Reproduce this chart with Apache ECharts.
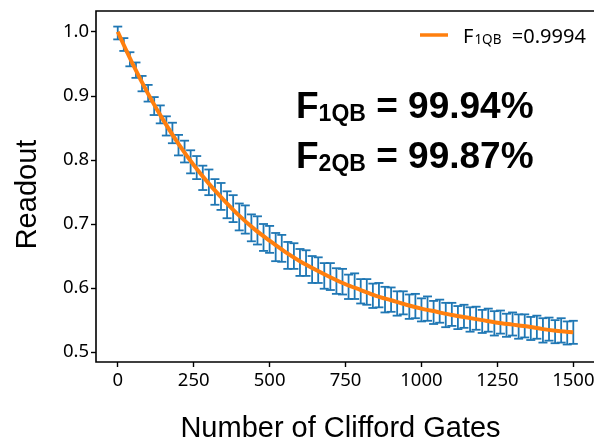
<!DOCTYPE html>
<html>
<head>
<meta charset="utf-8">
<script src="https://cdn.jsdelivr.net/npm/echarts@6/dist/echarts.min.js"></script>
<style>
  html, body { margin: 0; padding: 0; background: #ffffff; }
  #chart { width: 594px; height: 437px; }
</style>
</head>
<body>
<div id="chart"></div>
<script>
// Randomized benchmarking: readout vs. number of Clifford gates
const gates = [0, 20, 40, 60, 80, 100, 120, 140, 160, 180, 200, 220, 240, 260, 280, 300, 320, 340, 360, 380,
  400, 420, 440, 460, 480, 500, 520, 540, 560, 580, 600, 620, 640, 660, 680, 700, 720, 740, 760, 780,
  800, 820, 840, 860, 880, 900, 920, 940, 960, 980, 1000, 1020, 1040, 1060, 1080, 1100, 1120, 1140, 1160, 1180,
  1200, 1220, 1240, 1260, 1280, 1300, 1320, 1340, 1360, 1380, 1400, 1420, 1440, 1460, 1480, 1500];
const readout = [0.998, 0.980, 0.957, 0.940, 0.919, 0.904, 0.884, 0.871, 0.853, 0.842,
  0.823, 0.813, 0.797, 0.788, 0.772, 0.765, 0.750, 0.743, 0.730, 0.724,
  0.711, 0.707, 0.694, 0.690, 0.679, 0.676, 0.664, 0.662, 0.651, 0.650,
  0.640, 0.639, 0.629, 0.628, 0.619, 0.618, 0.611, 0.610, 0.602, 0.603,
  0.595, 0.594, 0.588, 0.589, 0.582, 0.582, 0.576, 0.577, 0.571, 0.572,
  0.566, 0.568, 0.562, 0.564, 0.558, 0.559, 0.554, 0.556, 0.551, 0.553,
  0.548, 0.550, 0.545, 0.547, 0.542, 0.544, 0.540, 0.541, 0.537, 0.539,
  0.534, 0.536, 0.532, 0.534, 0.530, 0.531];
const readoutErr = [0.010, 0.010, 0.011, 0.012, 0.012, 0.013, 0.014, 0.014, 0.015, 0.016,
  0.016, 0.017, 0.018, 0.018, 0.019, 0.020, 0.020, 0.021, 0.021, 0.021,
  0.021, 0.022, 0.021, 0.022, 0.021, 0.021, 0.022, 0.021, 0.021, 0.020,
  0.021, 0.020, 0.021, 0.020, 0.020, 0.021, 0.020, 0.020, 0.019, 0.020,
  0.019, 0.020, 0.019, 0.019, 0.020, 0.019, 0.019, 0.018, 0.019, 0.019,
  0.018, 0.019, 0.018, 0.018, 0.019, 0.018, 0.018, 0.018, 0.019, 0.018,
  0.018, 0.018, 0.019, 0.018, 0.018, 0.018, 0.019, 0.018, 0.018, 0.018,
  0.019, 0.018, 0.018, 0.019, 0.018, 0.018];

// Exponential decay fit, sampled along the sequence length
const fitGates = [0, 50, 100, 150, 200, 250, 300, 350, 400, 450, 500, 550, 600, 650, 700, 750,
  800, 850, 900, 950, 1000, 1050, 1100, 1150, 1200, 1250, 1300, 1350, 1400, 1450, 1500];
const fitReadout = [1.000, 0.949, 0.903, 0.862, 0.825, 0.792, 0.763, 0.737, 0.713, 0.692,
  0.674, 0.657, 0.642, 0.629, 0.617, 0.606, 0.597, 0.588, 0.581, 0.574,
  0.568, 0.563, 0.558, 0.554, 0.550, 0.546, 0.543, 0.540, 0.536, 0.533, 0.531];

const xTicks = [0, 250, 500, 750, 1000, 1250, 1500];
const yTicks = [0.5, 0.6, 0.7, 0.8, 0.9, 1.0];

const fidelity1Q = '99.94%';
const fidelity2Q = '99.87%';
const fitLabel = '0.9994';

const tickFont = '"Noto Sans", "Open Sans", sans-serif';
const titleFont = '"Liberation Sans", Arial, sans-serif';

const chart = echarts.init(document.getElementById('chart'), null, { renderer: 'canvas' });

const errData = gates.map((g, i) => [g, readout[i], readoutErr[i]]);
const fitData = fitGates.map((g, i) => [g, fitReadout[i]]);

const bigRich = {
  f: { fontFamily: titleFont, fontWeight: 'bold', fontSize: 37, fill: '#000', verticalAlign: 'bottom', lineHeight: 40 },
  s: { fontFamily: titleFont, fontWeight: 'bold', fontSize: 23, fill: '#000', verticalAlign: 'bottom', lineHeight: 10 }
};

const option = {
  animation: false,
  backgroundColor: '#ffffff',
  grid: {
    left: 96, top: 11, right: -3, bottom: 75,
    containLabel: false, outerBoundsMode: 'none',
    show: true, borderColor: '#000000', borderWidth: 1.6, backgroundColor: 'transparent'
  },
  xAxis: {
    type: 'value', min: -71.6, max: 1578,
    name: 'Number of Clifford Gates', nameLocation: 'middle', nameGap: 52,
    nameTextStyle: { fontFamily: titleFont, fontSize: 29, color: '#000', padding: [0, 12, 0, 0] },
    axisLine: { show: false, onZero: false },
    splitLine: { show: false },
    axisTick: { show: true, customValues: xTicks, length: 5, inside: false, lineStyle: { color: '#000', width: 1.4 } },
    axisLabel: { show: true, customValues: xTicks, fontFamily: tickFont, fontSize: 18.5, color: '#000', margin: 9,
      formatter: v => String(v) }
  },
  yAxis: {
    type: 'value', min: 0.4847, max: 1.0323,
    name: 'Readout', nameLocation: 'middle', nameGap: 54, nameRotate: 90,
    nameTextStyle: { fontFamily: titleFont, fontSize: 29, color: '#000', padding: [0, 16, 0, 0] },
    axisLine: { show: false, onZero: false },
    splitLine: { show: false },
    axisTick: { show: true, customValues: yTicks, length: 5, inside: false, lineStyle: { color: '#000', width: 1.4 } },
    axisLabel: { show: true, customValues: yTicks, fontFamily: tickFont, fontSize: 18.5, color: '#000', margin: 7,
      formatter: v => v.toFixed(1) }
  },
  legend: {
    show: true, left: 415, top: 22,
    icon: 'rect', itemWidth: 28, itemHeight: 3.5, itemGap: 10,
    data: [{ name: 'fit' }],
    formatter: () => '{f|F}{s|1QB}{a|  =' + fitLabel + '}',
    textStyle: {
      color: '#000', fontFamily: tickFont,
      rich: {
        f: { fontSize: 20, fontFamily: tickFont, color: '#000', verticalAlign: 'bottom', lineHeight: 24, padding: [0, 0, 0, 10] },
        a: { fontSize: 20, fontFamily: tickFont, color: '#000', verticalAlign: 'bottom', lineHeight: 24 },
        s: { fontSize: 13.5, fontFamily: tickFont, color: '#000', verticalAlign: 'bottom', lineHeight: 11, padding: [0, 0, 0, 1] }
      }
    }
  },
  graphic: [
    {
      type: 'text', left: 296, top: 89, z: 10,
      style: { text: '{f|F}{s|1QB}{f| = ' + fidelity1Q + '}', rich: bigRich }
    },
    {
      type: 'text', left: 296, top: 139, z: 10,
      style: { text: '{f|F}{s|2QB}{f| = ' + fidelity2Q + '}', rich: bigRich }
    }
  ],
  series: [
    {
      name: 'errorbars',
      type: 'custom',
      data: errData,
      z: 2,
      renderItem: (params, api) => {
        const x = api.value(0), y = api.value(1), e = api.value(2);
        const top = api.coord([x, y + e]);
        const bot = api.coord([x, y - e]);
        const cap = 4.5;
        const st = { stroke: '#1f77b4', lineWidth: 1.8 };
        return {
          type: 'group',
          children: [
            { type: 'line', shape: { x1: top[0], y1: top[1], x2: bot[0], y2: bot[1] }, style: st },
            { type: 'line', shape: { x1: top[0] - cap, y1: top[1], x2: top[0] + cap, y2: top[1] }, style: st },
            { type: 'line', shape: { x1: bot[0] - cap, y1: bot[1], x2: bot[0] + cap, y2: bot[1] }, style: st }
          ]
        };
      }
    },
    {
      name: 'fit',
      type: 'line',
      data: fitData,
      smooth: 0.3,
      showSymbol: false,
      symbol: 'none',
      z: 5,
      color: '#ff7f0e',
      lineStyle: { color: '#ff7f0e', width: 4 }
    }
  ]
};

chart.setOption(option);
</script>
</body>
</html>
